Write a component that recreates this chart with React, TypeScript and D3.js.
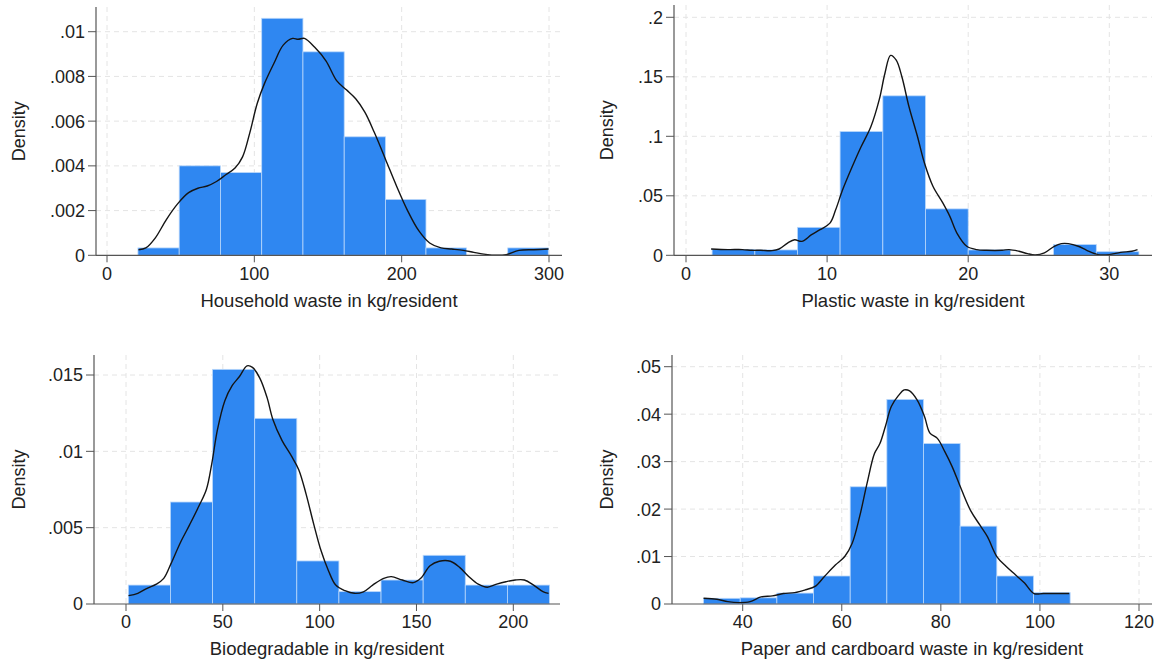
import React from "react";
import * as d3 from "d3";

// ---------- DATA ----------
// Panel 1: Household waste
const hhEdges = [21, 49, 77, 105, 133, 161, 189, 216.5, 244, 272, 299.5];
const hhDensity = [0.00033, 0.004, 0.0037, 0.0106, 0.0091, 0.0053, 0.0025, 0.00033, 0, 0.00033];
const hhKdeX = [21.4, 26.4, 32.7, 40.3, 47.9, 55.4, 61.7, 68, 74.3, 80.6, 86.9, 92, 97, 102, 107, 113.4, 119.6, 126, 129.7, 134, 141, 148.6, 156, 162.5, 168.8, 175, 181.4, 189, 196.5, 204, 211.6, 219, 226.7, 234, 241.8, 249, 257, 264.5, 271, 279.6, 289.7, 299.7];
const hhKdeY = [0.00025, 0.00033, 0.00077, 0.0016, 0.0023, 0.0028, 0.003, 0.0031, 0.0033, 0.0036, 0.0039, 0.0044, 0.0055, 0.0068, 0.0077, 0.0086, 0.0094, 0.0097, 0.00966, 0.0097, 0.0093, 0.0087, 0.0078, 0.0074, 0.007, 0.0064, 0.0055, 0.0043, 0.0031, 0.002, 0.0011, 0.00055, 0.00033, 0.00028, 0.00022, 0.00013, 0.00004, 0.0, 0.00003, 0.00022, 0.00025, 0.00028];
const hhXTicks = [0, 100, 200, 300];
const hhYTicks = [0, 0.002, 0.004, 0.006, 0.008, 0.01];
const hhYLabels = ["0", ".002", ".004", ".006", ".008", ".01"];

// Panel 2: Plastic waste
const plEdges = [1.85, 4.88, 7.9, 10.92, 13.95, 16.97, 20.0, 23.0, 26.05, 29.08, 32.1];
const plDensity = [0.005, 0.0045, 0.0235, 0.104, 0.134, 0.039, 0.0045, 0, 0.009, 0.003];
const plKdeX = [1.78, 2.97, 4.0, 4.67, 5.3, 6.1, 6.6, 7.2, 7.7, 8.2, 8.9, 9.5, 10.2, 10.6, 11.1, 11.8, 12.4, 13.1, 13.7, 14.1, 14.5, 14.9, 15.3, 15.8, 16.4, 16.9, 17.5, 18.2, 18.7, 19.2, 19.9, 20.6, 21.3, 22.4, 22.9, 23.6, 24.2, 24.75, 25.4, 26.1, 26.6, 27.1, 27.8, 28.4, 29.2, 30, 30.8, 31.6, 32];
const plKdeY = [0.0053, 0.0048, 0.0048, 0.0042, 0.0042, 0.0039, 0.0053, 0.0103, 0.0131, 0.0117, 0.0173, 0.0215, 0.027, 0.038, 0.055, 0.075, 0.091, 0.108, 0.131, 0.153, 0.168, 0.164, 0.15, 0.125, 0.1, 0.0775, 0.058, 0.044, 0.0327, 0.0187, 0.0076, 0.0048, 0.0042, 0.0042, 0.0048, 0.0034, 0.0014, 0.0003, 0.002, 0.0076, 0.0098, 0.0098, 0.0076, 0.0042, 0.0006, 0.0006, 0.0025, 0.0034, 0.0048];
const plXTicks = [0, 10, 20, 30];
const plYTicks = [0, 0.05, 0.1, 0.15, 0.2];
const plYLabels = ["0", ".05", ".1", ".15", ".2"];

// Panel 3: Biodegradable
const bioEdges = [1.2, 22.95, 44.7, 66.45, 88.2, 109.95, 131.7, 153.45, 175.2, 196.95, 218.7];
const bioDensity = [0.00124, 0.00668, 0.01537, 0.01216, 0.00282, 0.00081, 0.00157, 0.00319, 0.00124, 0.00124];
const bioKdeX = [1.3, 6.1, 10.9, 15.7, 19.5, 23.3, 28, 32.9, 37.6, 41.5, 44.3, 47.2, 51, 54.8, 58.6, 62.5, 65.3, 69.1, 72.9, 75.8, 80.6, 85.4, 89.2, 93, 96.8, 100.7, 104.5, 108.3, 113.1, 117.9, 122.6, 127.4, 133.1, 137, 142.7, 148.4, 152.2, 157, 161.8, 167.5, 172.3, 177.1, 181.9, 186.6, 191.4, 196.2, 201, 205.7, 210.5, 215.3, 218.2];
const bioKdeY = [0.00055, 0.0007, 0.00103, 0.0013, 0.00168, 0.00266, 0.004, 0.0052, 0.0064, 0.0075, 0.0092, 0.0114, 0.0133, 0.0143, 0.0149, 0.0156, 0.0155, 0.0148, 0.0135, 0.0121, 0.0107, 0.0097, 0.0088, 0.0072, 0.0053, 0.0035, 0.0022, 0.00124, 0.00087, 0.0007, 0.0008, 0.00124, 0.00168, 0.00179, 0.00157, 0.0014, 0.00168, 0.0025, 0.0028, 0.0028, 0.0024, 0.00179, 0.0013, 0.0011, 0.0013, 0.00146, 0.00157, 0.00157, 0.00124, 0.00081, 0.0007];
const bioXTicks = [0, 50, 100, 150, 200];
const bioYTicks = [0, 0.005, 0.01, 0.015];
const bioYLabels = ["0", ".005", ".01", ".015"];

// Panel 4: Paper and cardboard
const ppEdges = [32.1, 39.5, 46.9, 54.3, 61.7, 69.1, 76.5, 83.9, 91.3, 98.7, 106.1];
const ppDensity = [0.0012, 0.0013, 0.0023, 0.0059, 0.0247, 0.0431, 0.0338, 0.0164, 0.0059, 0.0024];
const ppKdeX = [32.1, 34.8, 37, 39.3, 41.5, 43.7, 46, 48.2, 50.5, 52.7, 54.6, 56.5, 58.7, 60.6, 62.1, 63.6, 65.1, 66.6, 67.7, 68.8, 70, 71.5, 72.6, 73.7, 75.2, 76.7, 77.8, 79.3, 80.8, 82.3, 84.2, 86.1, 87.9, 89.4, 91.3, 93.2, 95.1, 96.9, 98.8, 100.7, 103.7, 105.9];
const ppKdeY = [0.0012, 0.001, 0.0005, 0.0003, 0.0005, 0.0015, 0.0017, 0.0022, 0.0024, 0.003, 0.0037, 0.0058, 0.0082, 0.01, 0.0128, 0.0184, 0.0254, 0.0317, 0.0338, 0.0374, 0.0416, 0.044, 0.0451, 0.0449, 0.043, 0.0395, 0.036, 0.0349, 0.0321, 0.0289, 0.024, 0.0195, 0.0166, 0.0142, 0.01, 0.0079, 0.0061, 0.0044, 0.0022, 0.0022, 0.0022, 0.0022];
const ppXTicks = [40, 60, 80, 100, 120];
const ppYTicks = [0, 0.01, 0.02, 0.03, 0.04, 0.05];
const ppYLabels = ["0", ".01", ".02", ".03", ".04", ".05"];

// ---------- LAYOUT ----------
const FONT = "'Liberation Sans', Arial, Helvetica, sans-serif";
const BAR = "#2f87f1";
const BAR_EDGE = "#b9d7fb";

type PanelDef = {
  title: string;
  edges: number[];
  dens: number[];
  kx: number[];
  ky: number[];
  xTicks: number[];
  yTicks: number[];
  yLabels: string[];
  xr: [number, number]; // pixel of first/last x tick
  yr: [number, number]; // pixel of y=0 and last y tick
  left: number;
  right: number;
  top: number;
  densityX: number;
  tickBase: number;
  titleBase: number;
};

const panels: PanelDef[] = [
  {
    title: "Household waste in kg/resident",
    edges: hhEdges, dens: hhDensity, kx: hhKdeX, ky: hhKdeY,
    xTicks: hhXTicks, yTicks: hhYTicks, yLabels: hhYLabels,
    xr: [107, 549], yr: [255.3, 31.7], left: 96, right: 562, top: 7,
    densityX: 25, tickBase: 280, titleBase: 307,
  },
  {
    title: "Plastic waste in kg/resident",
    edges: plEdges, dens: plDensity, kx: plKdeX, ky: plKdeY,
    xTicks: plXTicks, yTicks: plYTicks, yLabels: plYLabels,
    xr: [686, 1109.3], yr: [255.3, 17.3], left: 674, right: 1152, top: 5,
    densityX: 613, tickBase: 280, titleBase: 307,
  },
  {
    title: "Biodegradable in kg/resident",
    edges: bioEdges, dens: bioDensity, kx: bioKdeX, ky: bioKdeY,
    xTicks: bioXTicks, yTicks: bioYTicks, yLabels: bioYLabels,
    xr: [126, 513.3], yr: [604, 375], left: 94, right: 560, top: 355,
    densityX: 25, tickBase: 628, titleBase: 655,
  },
  {
    title: "Paper and cardboard waste in kg/resident",
    edges: ppEdges, dens: ppDensity, kx: ppKdeX, ky: ppKdeY,
    xTicks: ppXTicks, yTicks: ppYTicks, yLabels: ppYLabels,
    xr: [742.7, 1139], yr: [604, 366.7], left: 672, right: 1152, top: 355,
    densityX: 613, tickBase: 628, titleBase: 655,
  },
];

function Panel({ p }: { p: PanelDef }) {
  const x = d3
    .scaleLinear()
    .domain([p.xTicks[0], p.xTicks[p.xTicks.length - 1]])
    .range(p.xr);
  const y = d3
    .scaleLinear()
    .domain([0, p.yTicks[p.yTicks.length - 1]])
    .range(p.yr);
  const bottom = y(0);
  const line = d3
    .line<number>()
    .x((_, i) => x(p.kx[i]))
    .y((d) => y(d))
    .curve(d3.curveCatmullRom.alpha(0.5));
  const midY = (p.top + bottom) / 2;
  const midX = (p.left + p.right) / 2;
  return (
    <g>
      {/* grid */}
      {p.yTicks.map((t, i) =>
        i === 0 ? null : (
          <line key={"gy" + i} x1={p.left} x2={p.right} y1={y(t)} y2={y(t)}
            stroke="#e4e4e4" strokeWidth={1} strokeDasharray="5,4" />
        )
      )}
      {p.xTicks.map((t, i) => (
        <line key={"gx" + i} x1={x(t)} x2={x(t)} y1={p.top} y2={bottom}
          stroke="#e4e4e4" strokeWidth={1} strokeDasharray="5,4" />
      ))}
      {/* bars */}
      {p.dens.map((d, i) =>
        d > 0 ? (
          <rect key={"b" + i} x={x(p.edges[i])} y={y(d)}
            width={x(p.edges[i + 1]) - x(p.edges[i])} height={bottom - y(d)}
            fill={BAR} stroke={BAR_EDGE} strokeWidth={0.8} />
        ) : null
      )}
      {/* kde */}
      <path d={line(p.ky) || ""} fill="none" stroke="#141414" strokeWidth={1.4} />
      {/* axes */}
      <line x1={p.left} x2={p.left} y1={p.top} y2={bottom} stroke="#555" strokeWidth={1.2} />
      <line x1={p.left} x2={p.right} y1={bottom} y2={bottom} stroke="#555" strokeWidth={1.2} />
      {p.yTicks.map((t, i) => (
        <g key={"yt" + i}>
          <line x1={p.left - 8} x2={p.left} y1={y(t)} y2={y(t)} stroke="#555" strokeWidth={1} />
          <text x={p.left - 11} y={y(t)} dy="0.36em" textAnchor="end"
            fontFamily={FONT} fontSize={18} fill="#222">{p.yLabels[i]}</text>
        </g>
      ))}
      {p.xTicks.map((t, i) => (
        <g key={"xt" + i}>
          <line x1={x(t)} x2={x(t)} y1={bottom} y2={bottom + 7} stroke="#555" strokeWidth={1} />
          <text x={x(t)} y={p.tickBase} textAnchor="middle"
            fontFamily={FONT} fontSize={18} fill="#222">{String(t)}</text>
        </g>
      ))}
      <text x={midX} y={p.titleBase} textAnchor="middle" fontFamily={FONT}
        fontSize={18.5} fill="#222">{p.title}</text>
      <text transform={`translate(${p.densityX},${midY}) rotate(-90)`} textAnchor="middle"
        fontFamily={FONT} fontSize={18} fill="#222">Density</text>
    </g>
  );
}

export default function App() {
  return (
    <svg width={1161} height={661} viewBox="0 0 1161 661"
      style={{ position: "absolute", left: 0, top: 0, background: "#fff" }}>
      <rect x={0} y={0} width={1161} height={661} fill="#fff" />
      {panels.map((p, i) => (
        <Panel key={i} p={p} />
      ))}
    </svg>
  );
}
